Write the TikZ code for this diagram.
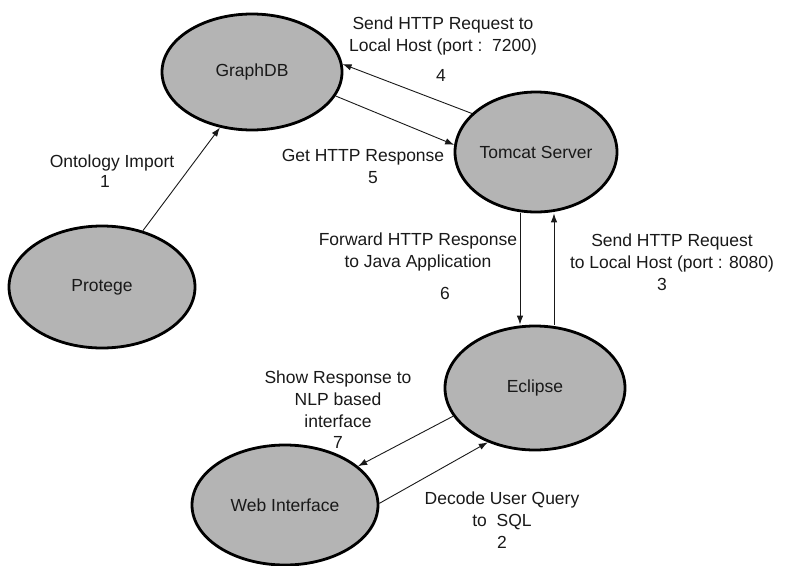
\documentclass[tikz,border=0pt]{standalone}
\usepackage{fontspec}
\setmainfont{Liberation Sans}
\usetikzlibrary{shapes.geometric,arrows.meta}
\definecolor{nodegray}{RGB}{180,180,180}
\definecolor{inkc}{RGB}{25,25,25}
\begin{document}
\begin{tikzpicture}[x=1pt,y=-1pt,
  comp/.style={ellipse,draw=black,line width=2.8pt,fill=nodegray,inner sep=0pt,
    font=\fontsize{17.5}{21}\selectfont,text=inkc},
  lbl/.style={align=center,font=\fontsize{17.5}{21.7}\selectfont,text=inkc,inner sep=0pt},
  conn/.style={line width=0.9pt,draw=inkc,-{Latex[length=9pt,width=6.5pt]}}]
\useasboundingbox (0,0) rectangle (803,565);
% nodes
\node[comp,minimum width=180pt,minimum height=116pt] (graphdb) at (252,72) {GraphDB};
\node[comp,minimum width=162pt,minimum height=120pt] (tomcat) at (536,152) {Tomcat Server};
\node[comp,minimum width=186pt,minimum height=122pt] (protege) at (102,287) {Protege};
\node[comp,minimum width=180pt,minimum height=124pt] (eclipse) at (535,388) {Eclipse};
\node[comp,minimum width=186pt,minimum height=120pt] (web) at (285,505) {Web Interface};
% connectors
\draw[conn] (protege.54) -- (graphdb.240);
\draw[conn] (tomcat.149) -- (graphdb.5);
\draw[conn] (graphdb.344) -- (tomcat.175);
\draw[conn] ([xshift=-16pt]tomcat.south) -- ([xshift=-15pt]eclipse.north);
\draw[conn] ([xshift=19pt]eclipse.north) -- ([xshift=18pt]tomcat.south);
\draw[conn] (eclipse.199) -- (web.28);
\draw[conn] (web.1) -- (eclipse.229);
% labels
\node[lbl] (l4) at (443,36) {Send HTTP Request to\\Local Host (port :\ \ 7200)};
\node[lbl] (n4) at (441,75) {4};
\node[lbl] (l5) at (363,157) {Get HTTP Response};
\node[lbl] (n5) at (373,178) {5};
\node[lbl] (l1) at (112,163) {Ontology Import};
\node[lbl] (n1) at (105,181) {1};
\node[lbl] (l6) at (418,252) {Forward HTTP Response\\to Java Application};
\node[lbl] (n6) at (445,293) {6};
\node[lbl] (l3) at (672,253) {Send HTTP Request\\to Local Host (port : 8080)};
\node[lbl] (n3) at (662,284) {3};
\node[lbl] (l7) at (338,410) {Show Response to\\NLP based\\interface\\7};
\node[lbl] (l2) at (502,520) {Decode User Query\\to\ \ SQL\\2};
\end{tikzpicture}
\end{document}
